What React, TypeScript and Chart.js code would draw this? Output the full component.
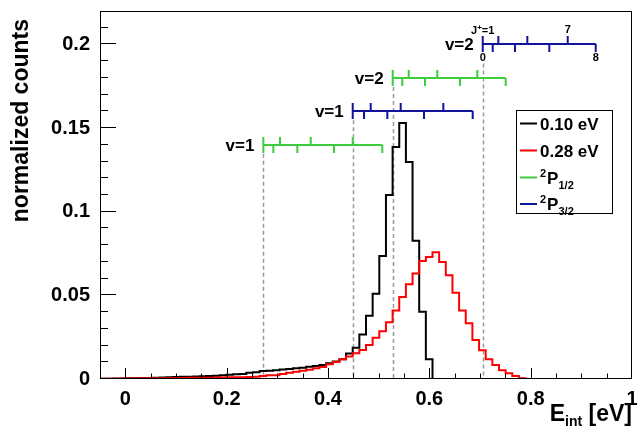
import React, { useEffect, useRef } from 'react';
import { Chart, registerables } from 'chart.js';

Chart.register(...registerables);

// ---------------- data ----------------
const HIST_MIN = -0.05;
const HIST_MAX = 1.0;

// E_int histogram, 80 bins from -0.05 to 1.0 eV, collision energy 0.10 eV
const COUNTS_010 = [
  0.0002, 0.0002, 0.0003, 0.0003, 0.0004,
  0.0005, 0.0006, 0.0006, 0.0007, 0.0009,
  0.0010, 0.0012, 0.0013, 0.0014, 0.0015,
  0.0016, 0.0018, 0.0020, 0.0022, 0.0026,
  0.0028, 0.0030, 0.0038, 0.0040, 0.0048,
  0.0050, 0.0052, 0.0057, 0.0060, 0.0064,
  0.0068, 0.0073, 0.0078, 0.0084, 0.0094,
  0.0104, 0.0118, 0.0152, 0.0187, 0.0266,
  0.0378, 0.0510, 0.0735, 0.1100, 0.1387,
  0.1530, 0.1297, 0.0827, 0.0402, 0.0118,
  0, 0, 0, 0, 0, 0, 0, 0, 0, 0,
  0, 0, 0, 0, 0, 0, 0, 0, 0, 0,
  0, 0, 0, 0, 0, 0, 0, 0, 0, 0,
];

// collision energy 0.28 eV
const COUNTS_028 = [
  0.0002, 0.0002, 0.0002, 0.0003, 0.0003,
  0.0003, 0.0004, 0.0004, 0.0004, 0.0005,
  0.0005, 0.0006, 0.0006, 0.0007, 0.0007,
  0.0008, 0.0008, 0.0009, 0.0009, 0.0010,
  0.0010, 0.0011, 0.0012, 0.0014, 0.0018,
  0.0022, 0.0022, 0.0030, 0.0038, 0.0044,
  0.0050, 0.0056, 0.0064, 0.0072, 0.0088,
  0.0102, 0.0118, 0.0134, 0.0154, 0.0173,
  0.0203, 0.0246, 0.0285, 0.0340, 0.0410,
  0.0490, 0.0567, 0.0630, 0.0705, 0.0730,
  0.0757, 0.0699, 0.0620, 0.0515, 0.0410,
  0.0333, 0.0233, 0.0172, 0.0118, 0.0084,
  0.0052, 0.0034, 0.0018, 0.0005, 0,
  0, 0, 0, 0, 0, 0, 0, 0, 0, 0,
  0, 0, 0, 0, 0,
];

const X_TICKS = [0, 0.2, 0.4, 0.6, 0.8, 1];
const X_MINOR_STEP = 0.05;
const Y_TICKS = [0, 0.05, 0.1, 0.15, 0.2];
const Y_MINOR_STEP = 0.01;
const Y_MAX = 0.22;

// rotational ladders (energies in eV)
const LADDER_NAMES = ['v=1', 'v=1', 'v=2', 'v=2'];
const LADDER_STATE = ['P12', 'P32', 'P12', 'P32'];
const LADDER_Y = [0.14, 0.16, 0.18, 0.2];
const LADDER_START = [0.2724, 0.4488, 0.5277, 0.7054];
// J = 2, 4, 6, 8 (ticks below the line)
const LADDER_EVEN_J = [
  [0.2921, 0.3395, 0.4119, 0.5072],
  [0.4711, 0.5171, 0.5895, 0.6856],
  [0.5467, 0.5915, 0.6606, 0.7507],
  [0.7251, 0.7691, 0.8368, 0.9284],
];
// J = 3, 5, 7 (ticks above the line)
const LADDER_ODD_J = [
  [0.3053, 0.3659, 0.4488],
  [0.4843, 0.5435, 0.6276],
  [0.5593, 0.6157, 0.6947],
  [0.7362, 0.7934, 0.8731],
];

const LEGEND_TEXT = ['0.10 eV', '0.28 eV', 'P', 'P'];
const LEGEND_SUP = ['', '', '2', '2'];
const LEGEND_SUB = ['', '', '1/2', '3/2'];

// ---------------- styles ----------------
const FONT = '"Liberation Sans", Arial, Helvetica, sans-serif';
const GREEN = '#3ccc3c';
const BLUE = '#12129a';
const RED = '#ff0000';
const BLACK = '#000000';
const LEGEND_COLORS = [BLACK, RED, GREEN, BLUE];

function histPoints(values: number[]) {
  const n = values.length;
  const w = (HIST_MAX - HIST_MIN) / n;
  const pts = values.map((v, k) => ({ x: HIST_MIN + k * w, y: v }));
  pts.push({ x: HIST_MAX, y: values[n - 1] });
  return pts;
}

const overlayPlugin = {
  id: 'overlay',
  beforeDatasetsDraw(chart: any) {
    const { ctx, chartArea: a, scales } = chart;
    const xs = scales.x;
    const ys = scales.y;
    ctx.save();
    ctx.strokeStyle = '#9a9a9a';
    ctx.lineWidth = 1.5;
    ctx.setLineDash([4, 3]);
    LADDER_START.forEach((e: number, i: number) => {
      const px = Math.round(xs.getPixelForValue(e)) + 0.5;
      const top = ys.getPixelForValue(LADDER_Y[i]) + (i === 3 ? 19 : 9);
      ctx.beginPath();
      ctx.moveTo(px, top);
      ctx.lineTo(px, a.bottom);
      ctx.stroke();
    });
    ctx.restore();
  },
  afterDatasetsDraw(chart: any) {
    const { ctx, chartArea: a, scales } = chart;
    const xs = scales.x;
    const ys = scales.y;
    ctx.save();

    // frame
    ctx.strokeStyle = '#000';
    ctx.lineWidth = 1;
    ctx.setLineDash([]);
    ctx.strokeRect(a.left + 0.5, a.top + 0.5, a.right - a.left - 1, a.bottom - a.top - 1);

    // y ticks (inside)
    ctx.beginPath();
    const nYMinor = Math.round(Y_MAX / Y_MINOR_STEP);
    for (let i = 0; i <= nYMinor; i++) {
      const v = i * Y_MINOR_STEP;
      const isMajor = Y_TICKS.some((t) => Math.abs(t - v) < 1e-9);
      const py = Math.round(ys.getPixelForValue(v)) - 0.5;
      if (py < a.top) continue;
      ctx.moveTo(a.left, py);
      ctx.lineTo(a.left + (isMajor ? 16 : 8), py);
    }
    // x ticks (inside)
    const nXMinor = Math.round((HIST_MAX - HIST_MIN) / X_MINOR_STEP);
    for (let i = 0; i <= nXMinor; i++) {
      const v = HIST_MIN + i * X_MINOR_STEP;
      const isMajor = X_TICKS.some((t) => Math.abs(t - v) < 1e-9);
      const px = Math.round(xs.getPixelForValue(v)) + 0.5;
      if (px <= a.left + 1 || px >= a.right - 1) continue;
      ctx.moveTo(px, a.bottom);
      ctx.lineTo(px, a.bottom - (isMajor ? 11 : 5.5));
    }
    ctx.stroke();

    // ladders
    const half = 8;
    LADDER_START.forEach((e: number, i: number) => {
      const color = LADDER_STATE[i] === 'P12' ? GREEN : BLUE;
      const y0 = Math.round(ys.getPixelForValue(LADDER_Y[i]));
      const x0 = xs.getPixelForValue(e);
      const evens = LADDER_EVEN_J[i];
      const odds = LADDER_ODD_J[i];
      const xEnd = xs.getPixelForValue(evens[evens.length - 1]);
      ctx.strokeStyle = color;
      ctx.lineWidth = 2;
      ctx.beginPath();
      ctx.moveTo(x0, y0);
      ctx.lineTo(xEnd, y0);
      ctx.moveTo(x0, y0 - half);
      ctx.lineTo(x0, y0 + half);
      evens.forEach((ev: number) => {
        const px = xs.getPixelForValue(ev);
        ctx.moveTo(px, y0);
        ctx.lineTo(px, y0 + half);
      });
      odds.forEach((ov: number) => {
        const px = xs.getPixelForValue(ov);
        ctx.moveTo(px, y0);
        ctx.lineTo(px, y0 - half);
      });
      ctx.stroke();

      ctx.fillStyle = '#000';
      ctx.font = `bold 17px ${FONT}`;
      ctx.textAlign = 'right';
      ctx.textBaseline = 'middle';
      ctx.fillText(LADDER_NAMES[i], x0 - 9, y0 + 1);

      if (i === 3) {
        ctx.font = `bold 11px ${FONT}`;
        ctx.textAlign = 'center';
        ctx.textBaseline = 'middle';
        ctx.fillText('0', x0, y0 + 14);
        ctx.fillText('8', xEnd, y0 + 14);
        ctx.fillText('7', xs.getPixelForValue(odds[odds.length - 1]), y0 - 14);
        // J+=1
        const wJ = ctx.measureText('J').width;
        ctx.font = `bold 8px ${FONT}`;
        const wP = ctx.measureText('+').width;
        ctx.font = `bold 11px ${FONT}`;
        const wE = ctx.measureText('=1').width;
        let sx = x0 - (wJ + wP + wE) / 2;
        ctx.textAlign = 'left';
        ctx.textBaseline = 'alphabetic';
        const by = y0 - 10;
        ctx.fillText('J', sx, by);
        sx += wJ;
        ctx.font = `bold 8px ${FONT}`;
        ctx.fillText('+', sx, by - 4);
        sx += wP;
        ctx.font = `bold 11px ${FONT}`;
        ctx.fillText('=1', sx, by);
      }
    });

    // legend
    const lx0 = 516.5, ly0 = 110.5, lx1 = 612.5, ly1 = 213.5;
    ctx.fillStyle = '#fff';
    ctx.fillRect(lx0, ly0, lx1 - lx0, ly1 - ly0);
    ctx.strokeStyle = '#000';
    ctx.lineWidth = 1;
    ctx.strokeRect(lx0, ly0, lx1 - lx0, ly1 - ly0);
    const rowY = [123.5, 150.5, 177.5, 204];
    LEGEND_TEXT.forEach((t: string, i: number) => {
      const cy = rowY[i];
      ctx.strokeStyle = LEGEND_COLORS[i];
      ctx.lineWidth = 2;
      ctx.beginPath();
      ctx.moveTo(520, cy);
      ctx.lineTo(537, cy);
      ctx.stroke();
      ctx.fillStyle = '#000';
      ctx.textAlign = 'left';
      ctx.textBaseline = 'alphabetic';
      let sx = 540;
      const base = cy + 6;
      if (LEGEND_SUP[i]) {
        ctx.font = `bold 11px ${FONT}`;
        ctx.fillText(LEGEND_SUP[i], sx, base - 7);
        sx += ctx.measureText(LEGEND_SUP[i]).width + 1;
      }
      ctx.font = `bold 17px ${FONT}`;
      ctx.fillText(t, sx, base);
      sx += ctx.measureText(t).width;
      if (LEGEND_SUB[i]) {
        ctx.font = `bold 11px ${FONT}`;
        ctx.fillText(LEGEND_SUB[i], sx, base + 5);
      }
    });

    // x title: E_int [eV]
    ctx.fillStyle = '#000';
    ctx.textAlign = 'left';
    ctx.textBaseline = 'alphabetic';
    ctx.font = `bold 23px ${FONT}`;
    const wE = ctx.measureText('E').width;
    const wRest = ctx.measureText(' [eV]').width;
    ctx.font = `bold 14px ${FONT}`;
    const wSub = ctx.measureText('int').width;
    let tx = a.right - (wE + wSub + wRest);
    const tb = 421;
    ctx.font = `bold 23px ${FONT}`;
    ctx.fillText('E', tx, tb);
    tx += wE;
    ctx.font = `bold 14px ${FONT}`;
    ctx.fillText('int', tx, tb + 5);
    tx += wSub;
    ctx.font = `bold 23px ${FONT}`;
    ctx.fillText(' [eV]', tx, tb);

    // y title
    ctx.save();
    ctx.translate(28, a.top + 8);
    ctx.rotate(-Math.PI / 2);
    ctx.textAlign = 'right';
    ctx.textBaseline = 'alphabetic';
    ctx.font = `bold 23px ${FONT}`;
    ctx.fillText('normalized counts', 0, 0);
    ctx.restore();

    ctx.restore();
  },
};

export default function App() {
  const canvasRef = useRef<HTMLCanvasElement | null>(null);

  useEffect(() => {
    const canvas = canvasRef.current;
    if (!canvas) return;
    const tickFont = { family: FONT, size: 20, weight: 'bold' as const };
    const chart = new Chart(canvas, {
      type: 'line',
      data: {
        datasets: [
          {
            label: '0.28 eV',
            data: histPoints(COUNTS_028),
            borderColor: RED,
            borderWidth: 2,
            stepped: true,
            pointRadius: 0,
            fill: false,
            order: 0,
          },
          {
            label: '0.10 eV',
            data: histPoints(COUNTS_010),
            borderColor: BLACK,
            borderWidth: 2,
            stepped: true,
            pointRadius: 0,
            fill: false,
            order: 1,
          },
        ],
      },
      options: {
        responsive: false,
        animation: false,
        devicePixelRatio: 1,
        layout: { padding: { top: 11, right: 5, left: 0, bottom: 0 } },
        plugins: { legend: { display: false }, tooltip: { enabled: false } },
        scales: {
          x: {
            type: 'linear',
            min: HIST_MIN,
            max: HIST_MAX,
            grid: { display: false, drawTicks: false },
            border: { display: false },
            ticks: {
              font: tickFont,
              color: '#000',
              padding: 8,
              maxRotation: 0,
              autoSkip: false,
              callback: (v: any) => String(v),
            },
            afterBuildTicks: (scale: any) => {
              scale.ticks = X_TICKS.map((v) => ({ value: v }));
            },
            afterFit: (scale: any) => {
              scale.height = 54;
              scale.paddingLeft = 0;
              scale.paddingRight = 0;
            },
          },
          y: {
            type: 'linear',
            min: 0,
            max: Y_MAX,
            grid: { display: false, drawTicks: false },
            border: { display: false },
            ticks: {
              font: tickFont,
              color: '#000',
              padding: 10,
              autoSkip: false,
              callback: (v: any) => String(v),
            },
            afterBuildTicks: (scale: any) => {
              scale.ticks = Y_TICKS.map((v) => ({ value: v }));
            },
            afterFit: (scale: any) => {
              scale.width = 100;
              scale.paddingTop = 0;
              scale.paddingBottom = 0;
            },
          },
        },
      },
      plugins: [overlayPlugin],
    });
    return () => chart.destroy();
  }, []);

  return (
    <div style={{ position: 'fixed', left: 0, top: 0, width: 637, height: 433, background: '#fff' }}>
      <canvas ref={canvasRef} width={637} height={433} style={{ display: 'block' }} />
    </div>
  );
}
